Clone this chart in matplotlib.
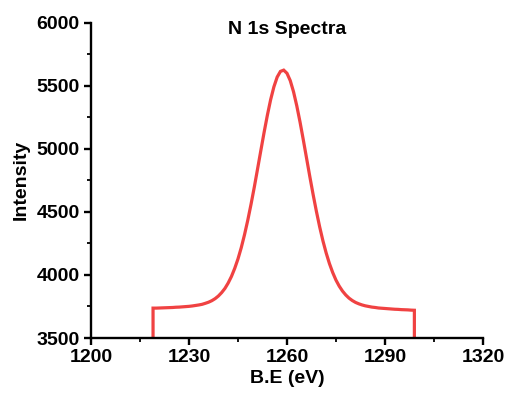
import matplotlib
matplotlib.use("Agg")
import matplotlib.pyplot as plt
from matplotlib.ticker import MultipleLocator

plt.rcParams['font.family'] = ['Liberation Sans', 'DejaVu Sans']
plt.rcParams['font.weight'] = 'bold'

# binding energy (eV) and fitted N 1s envelope
be = list(range(1219, 1300))
intensity = [
    3737, 3737, 3738, 3739, 3740, 3741, 3742, 3744, 3745, 3747,
    3749, 3751, 3754, 3758, 3762, 3767, 3775, 3784, 3796, 3812,
    3833, 3860, 3893, 3936, 3988, 4052, 4127, 4216, 4319, 4434,
    4561, 4697, 4841, 4987, 5131, 5267, 5390, 5492, 5569, 5614,
    5624, 5599, 5541, 5453, 5341, 5212, 5071, 4925, 4779, 4638,
    4505, 4382, 4271, 4174, 4090, 4019, 3959, 3911, 3872, 3841,
    3816, 3797, 3782, 3771, 3762, 3755, 3750, 3745, 3742, 3738,
    3736, 3734, 3732, 3730, 3728, 3727, 3725, 3724, 3723, 3721,
    3720,
]
floor = 3500

# the fit region is closed down to the axis at both ends
xs = [be[0]] + be + [be[-1]]
ys = [floor] + intensity + [floor]

fig = plt.figure(figsize=(5.06, 3.97), dpi=100)
ax = fig.add_axes([0.1798, 0.1486, 0.7747, 0.7942])

ax.plot(xs, ys, color='#F04242', lw=2.3, zorder=2, solid_joinstyle='miter')

ax.set_xlim(1200, 1320)
ax.set_ylim(3500, 6000)
ax.xaxis.set_major_locator(MultipleLocator(30))
ax.xaxis.set_minor_locator(MultipleLocator(15))
ax.yaxis.set_major_locator(MultipleLocator(500))
ax.yaxis.set_minor_locator(MultipleLocator(250))

for side in ('top', 'right'):
    ax.spines[side].set_visible(False)
for side in ('left', 'bottom'):
    ax.spines[side].set_linewidth(1.7)
    ax.spines[side].set_zorder(3)

ax.tick_params(which='major', direction='out', length=5, width=1.7,
               labelsize=14, pad=3)
ax.tick_params(which='minor', direction='out', length=3, width=1.3)
for lbl in ax.get_xticklabels() + ax.get_yticklabels():
    lbl.set_fontweight('bold')

ax.set_xlabel('B.E (eV)', fontsize=14, fontweight='bold', labelpad=3)
ax.set_ylabel('Intensity', fontsize=14, fontweight='bold', labelpad=5)
ax.text(0.5, 0.977, 'N 1s Spectra', transform=ax.transAxes,
        ha='center', va='center', fontsize=14, fontweight='bold')

fig.savefig('out.png', dpi=100)
